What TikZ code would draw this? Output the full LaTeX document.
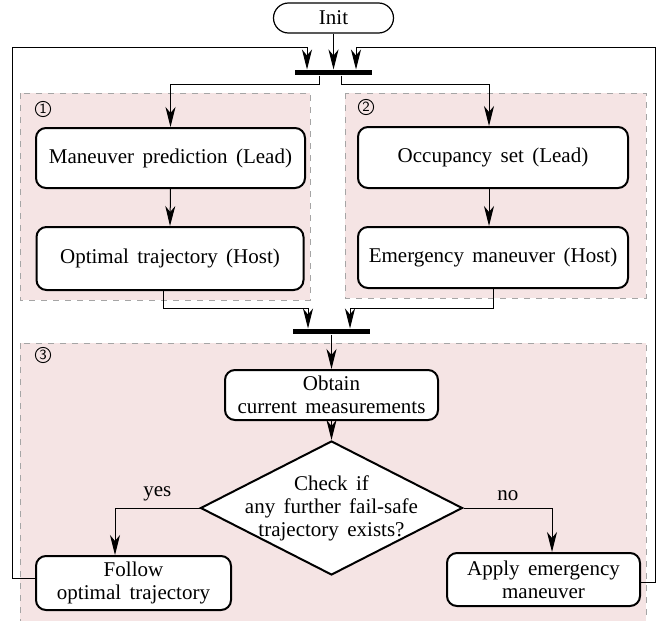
\documentclass[tikz,border=0pt]{standalone}
\usepackage{fontspec}
\setmainfont{Liberation Serif}[WordSpace=1.6]
\usetikzlibrary{shapes.geometric,arrows.meta}
\definecolor{regfill}{RGB}{245,228,228}
\definecolor{regline}{RGB}{165,165,165}
\begin{document}
\begin{tikzpicture}[x=0.5pt,y=-0.5pt,
  font=\fontsize{10.5}{11.5}\selectfont,
  box/.style={draw,line width=1pt,rounded corners=5pt,fill=white,align=center,inner sep=0pt},
  conn/.style={line width=0.5pt,-{Stealth[length=10pt,width=5pt,inset=3pt]}},
  bar/.style={fill=black,inner sep=0pt,minimum width=38.5pt,minimum height=2.6pt},
  region/.style={fill=regfill,draw=regline,dashed,line width=0.5pt},
  circnum/.style={circle,draw,line width=0.45pt,inner sep=0pt,minimum size=7.6pt,
    font=\sffamily\fontsize{7}{7}\selectfont}]
\useasboundingbox (0,0) rectangle (665,621);
% regions
\draw[region] (20,93) rectangle (310,300);
\draw[region] (345,93) rectangle (646,298);
\draw[region] (20,343) rectangle (646,640);
\node[circnum] (c1) at (43,109) {1};
\node[circnum] (c2) at (366,107) {2};
\node[circnum] (c3) at (43,355) {3};
% nodes
\node[draw,line width=0.6pt,rounded corners=7.5pt,minimum width=60pt,minimum height=15pt,inner sep=0pt] (init) at (333.5,18) {Init};
\node[bar] (bar1) at (333.5,72.5) {};
\node[box,minimum width=134.5pt,minimum height=30pt] (man) at (170.5,158) {Maneuver prediction (Lead)};
\node[box,minimum width=133.5pt,minimum height=31.5pt] (opt) at (170,258.5) {Optimal trajectory (Host)};
\node[box,minimum width=135pt,minimum height=30.5pt] (occ) at (493,157.5) {Occupancy set (Lead)};
\node[box,minimum width=135pt,minimum height=30.5pt] (emg) at (493,257.5) {Emergency maneuver (Host)};
\node[bar] (bar2) at (331.5,331.5) {};
\node[box,minimum width=106.5pt,minimum height=25pt] (obt) at (331.5,395) {Obtain\\current measurements};
\node[diamond,draw,line width=1pt,fill=white,minimum width=131pt,minimum height=67pt,inner sep=0pt,
  label={[name=chktext,align=center]center:Check if\\any further fail-safe\\trajectory exists?}] (chk) at (331.5,508) {};
\node[box,minimum width=97.5pt,minimum height=27pt] (fol) at (133.5,583) {Follow\\optimal trajectory};
\node[box,minimum width=96.5pt,minimum height=26.5pt] (apl) at (543.5,579.5) {Apply emergency\\maneuver};
\coordinate (lc) at (12,47);
\coordinate (rc) at (655,47);
% connectors
\draw[conn] (init.south) -- (bar1.north);
\draw[conn] ([xshift=-7.25pt]bar1.south) -- ++(0,9) -| (man.north);
\draw[conn] ([xshift=3.75pt]bar1.south) -- ++(0,9) -| ([xshift=-2pt]occ.north);
\draw[conn] (man.south) -- (opt.north);
\draw[conn] ([xshift=-2pt]occ.south) -- ([xshift=-2pt]emg.north);
\draw[conn] ([xshift=-3.5pt]opt.south) -- ++(0,17) -| ([xshift=-11.75pt]bar2.north);
\draw[conn] (emg.south) -- ++(0,19) -| ([xshift=9.25pt]bar2.north);
\draw[conn] (bar2.south) -- (obt.north);
\draw[conn] (obt.south) -- (chk.north);
\draw[conn] (chk.west) -| node[pos=0.25,above]{yes} ([xshift=-9.25pt]fol.north);
\draw[conn] (chk.east) -| node[pos=0.25,above]{no} ([xshift=4.25pt]apl.north);
\draw[conn] ([yshift=2.5pt]fol.west) -| (lc) -| ([xshift=-13.25pt]bar1.north);
\draw[conn] ([yshift=-1.25pt]apl.east) -| (rc) -| ([xshift=11.25pt]bar1.north);
\end{tikzpicture}
\end{document}
